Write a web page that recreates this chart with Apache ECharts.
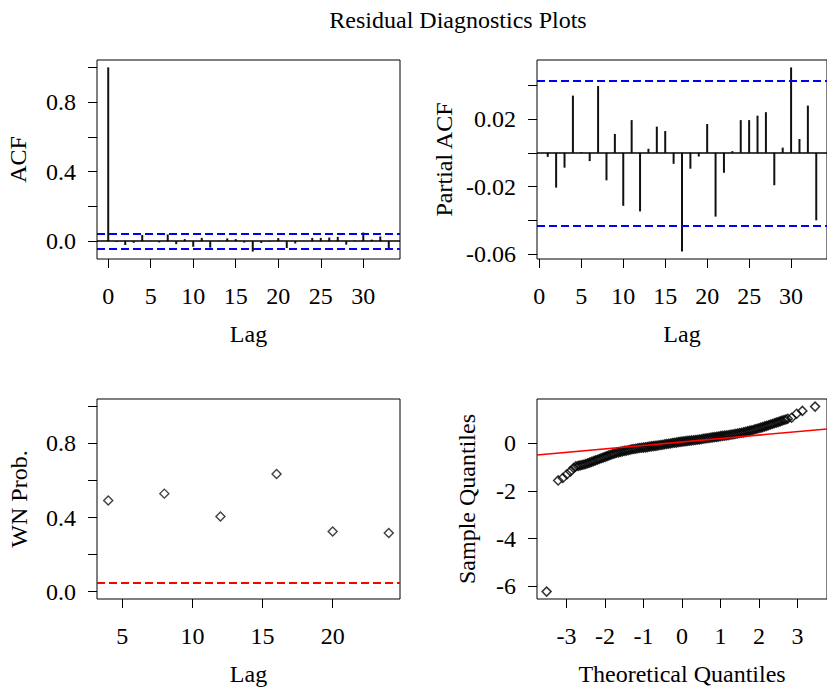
<!DOCTYPE html>
<html>
<head>
<meta charset="utf-8">
<script src="https://cdn.jsdelivr.net/npm/echarts@6/dist/echarts.min.js"></script>
<style>
html,body{margin:0;padding:0;background:#fff;}
#chart{width:827px;height:687px;}
</style>
</head>
<body>
<div id="chart"></div>
<script>
// ---------- data ----------
const titleText = 'Residual Diagnostics Plots';

const acfLags = [0,1,2,3,4,5,6,7,8,9,10,11,12,13,14,15,16,17,18,19,20,21,22,23,24,25,26,27,28,29,30,31,32,33];
const acfValues = [1.0,-0.005,-0.022,-0.009,0.036,0.001,-0.007,0.039,-0.017,0.012,-0.032,0.019,-0.037,0.002,0.016,0.012,-0.008,-0.060,-0.010,-0.003,0.018,-0.039,-0.013,0.001,0.019,0.019,0.021,0.025,-0.020,0.004,0.050,0.009,0.027,-0.041];

const pacfLags = [1,2,3,4,5,6,7,8,9,10,11,12,13,14,15,16,17,18,19,20,21,22,23,24,25,26,27,28,29,30,31,32,33];
const pacfValues = [-0.0024,-0.0206,-0.0088,0.0339,0.0005,-0.0049,0.0396,-0.0163,0.0112,-0.0314,0.0194,-0.0347,0.0024,0.0155,0.0129,-0.0065,-0.0584,-0.0094,-0.0022,0.0171,-0.0378,-0.0118,0.0010,0.0194,0.0194,0.0220,0.0241,-0.0192,0.0031,0.0506,0.0082,0.0280,-0.0400];

const confLimit = 0.043;

const wnLags = [4,8,12,16,20,24];
const wnProb = [0.492,0.529,0.405,0.635,0.324,0.317];
const wnLevel = 0.05;

const qqTheoretical = [-3.52,-3.22,-3.10,-2.99,-2.90,-2.82,-2.76,
 -2.70,-2.65,-2.60,-2.55,-2.50,-2.45,-2.40,-2.35,-2.30,-2.25,-2.20,-2.15,-2.10,-2.05,-2.00,-1.95,-1.90,-1.85,-1.80,-1.75,-1.70,-1.65,-1.60,-1.55,-1.50,-1.45,-1.40,-1.35,-1.30,-1.25,-1.20,-1.15,-1.10,-1.05,-1.00,-0.95,-0.90,-0.85,-0.80,-0.75,-0.70,-0.65,-0.60,-0.55,-0.50,-0.45,-0.40,-0.35,-0.30,-0.25,-0.20,-0.15,-0.10,-0.05,
 0.00,0.05,0.10,0.15,0.20,0.25,0.30,0.35,0.40,0.45,0.50,0.55,0.60,0.65,0.70,0.75,0.80,0.85,0.90,0.95,1.00,1.05,1.10,1.15,1.20,1.25,1.30,1.35,1.40,1.45,1.50,1.55,1.60,1.65,1.70,1.75,1.80,1.85,1.90,1.95,2.00,2.05,2.10,2.15,2.20,2.25,2.30,2.35,2.40,2.45,2.50,2.55,2.60,2.65,2.70,2.75,
 2.85,2.98,3.13,3.46];
const qqSample = [-6.23,-1.56,-1.46,-1.30,-1.18,-1.04,-0.97,
 -0.95,-0.93,-0.91,-0.89,-0.87,-0.84,-0.81,-0.78,-0.75,-0.72,-0.69,-0.66,-0.63,-0.60,-0.57,-0.54,-0.51,-0.48,-0.45,-0.43,-0.40,-0.38,-0.36,-0.34,-0.32,-0.31,-0.29,-0.27,-0.25,-0.24,-0.23,-0.21,-0.20,-0.19,-0.18,-0.17,-0.16,-0.14,-0.13,-0.12,-0.11,-0.10,-0.08,-0.07,-0.06,-0.04,-0.03,-0.02,-0.01,0.01,0.02,0.03,0.05,0.06,
 0.07,0.08,0.09,0.10,0.11,0.12,0.13,0.14,0.15,0.16,0.17,0.19,0.20,0.21,0.22,0.24,0.25,0.26,0.27,0.28,0.30,0.31,0.32,0.33,0.34,0.36,0.37,0.38,0.40,0.41,0.43,0.44,0.46,0.48,0.50,0.52,0.54,0.56,0.59,0.61,0.63,0.66,0.68,0.71,0.73,0.76,0.79,0.81,0.84,0.87,0.89,0.92,0.95,0.98,1.00,1.03,
 1.07,1.24,1.36,1.54];
const qqLineIntercept = 0.055;
const qqLineSlope = 0.145;

// tick values and labels
const lagTicks = [0,5,10,15,20,25,30];
const acfYTicks = [0,0.2,0.4,0.6,0.8,1.0];
const acfYLabels = [0,0.4,0.8];
const pacfYTicks = [-0.06,-0.04,-0.02,0,0.02,0.04];
const pacfYLabels = [-0.06,-0.02,0.02];
const wnXTicks = [5,10,15,20];
const wnYTicks = [0,0.2,0.4,0.6,0.8,1.0];
const wnYLabels = [0,0.4,0.8];
const qqXTicks = [-3,-2,-1,0,1,2,3];
const qqYTicks = [-6,-4,-2,0];

// ---------- chart ----------
const FONT = "'Liberation Serif','Times New Roman',serif";
const FS = 24;
const INK = '#000';

function xAxis(grid, min, max, ticks, labels, name, fmt) {
  return {
    type: 'value', gridIndex: grid, min: min, max: max,
    axisLine: {show: false, onZero: false},
    splitLine: {show: false},
    axisTick: {show: true, inside: false, length: 9, lineStyle: {color: INK, width: 1}, customValues: ticks},
    axisLabel: {show: true, margin: 25, color: INK, fontFamily: FONT, fontSize: FS, customValues: labels,
      formatter: fmt || (v => String(v))},
    name: name, nameLocation: 'middle', nameGap: 63, nameMoveOverlap: false,
    nameTextStyle: {color: INK, fontFamily: FONT, fontSize: FS}
  };
}
function yAxis(grid, min, max, ticks, labels, name, fmt, gap) {
  return {
    type: 'value', gridIndex: grid, min: min, max: max,
    axisLine: {show: false, onZero: false},
    splitLine: {show: false},
    axisTick: {show: true, inside: false, length: 9, lineStyle: {color: INK, width: 1}, customValues: ticks},
    axisLabel: {show: true, margin: 21, color: INK, fontFamily: FONT, fontSize: FS, customValues: labels,
      formatter: fmt || (v => String(v))},
    name: name, nameLocation: 'middle', nameGap: gap, nameRotate: 90, nameMoveOverlap: false,
    nameTextStyle: {color: INK, fontFamily: FONT, fontSize: FS}
  };
}
function refLine(y, color, type, width) {
  return {yAxis: y, lineStyle: {color: color, type: type, width: width}};
}
const markCommon = {silent: true, symbol: 'none', precision: 6, label: {show: false}, animation: false};

const gridBox = {show: true, borderColor: INK, borderWidth: 1, backgroundColor: 'transparent'};

const qqXMin = -3.77, qqXMax = 3.77;

const option = {
  animation: false,
  backgroundColor: '#fff',
  graphic: [{
    type: 'text', x: 458, y: 20,
    style: {text: titleText, fill: INK, font: FS + 'px ' + FONT, textAlign: 'center', textVerticalAlign: 'middle'}
  }],
  grid: [
    Object.assign({left: 97, top: 60, width: 303, height: 199}, gridBox),
    Object.assign({left: 537, top: 60, width: 302, height: 199}, gridBox),
    Object.assign({left: 97, top: 399, width: 303, height: 200}, gridBox),
    Object.assign({left: 537, top: 399, width: 302, height: 200}, gridBox)
  ],
  xAxis: [
    xAxis(0, -1.32, 34.32, lagTicks, lagTicks, 'Lag'),
    xAxis(1, -0.28, 34.28, lagTicks, lagTicks, 'Lag'),
    xAxis(2, 3.2, 24.8, wnXTicks, wnXTicks, 'Lag'),
    xAxis(3, qqXMin, qqXMax, qqXTicks, qqXTicks, 'Theoretical Quantiles')
  ],
  yAxis: [
    yAxis(0, -0.1024, 1.0424, acfYTicks, acfYLabels, 'ACF', v => v.toFixed(1), 67),
    yAxis(1, -0.0629, 0.0550, pacfYTicks, pacfYLabels, 'Partial ACF', v => v.toFixed(2), 81),
    yAxis(2, -0.04, 1.04, wnYTicks, wnYLabels, 'WN Prob.', v => v.toFixed(1), 66),
    yAxis(3, -6.54, 1.86, qqYTicks, qqYTicks, 'Sample Quantiles', v => String(v), 58)
  ],
  series: [
    {
      type: 'bar', xAxisIndex: 0, yAxisIndex: 0, barWidth: 2,
      itemStyle: {color: '#111'},
      data: acfLags.map((l, i) => [l, acfValues[i]]),
      markLine: Object.assign({data: [
        refLine(0, INK, 'solid', 1.5),
        refLine(confLimit, '#0000ff', [8, 4], 2),
        refLine(-confLimit, '#0000ff', [8, 4], 2)
      ]}, markCommon)
    },
    {
      type: 'bar', xAxisIndex: 1, yAxisIndex: 1, barWidth: 2,
      itemStyle: {color: '#111'},
      data: pacfLags.map((l, i) => [l, pacfValues[i]]),
      markLine: Object.assign({data: [
        refLine(0, INK, 'solid', 1.5),
        refLine(confLimit, '#0000ff', [8, 4], 2),
        refLine(-confLimit, '#0000ff', [8, 4], 2)
      ]}, markCommon)
    },
    {
      type: 'scatter', xAxisIndex: 2, yAxisIndex: 2,
      symbol: 'diamond', symbolSize: 9,
      itemStyle: {color: 'rgba(255,255,255,0)', borderColor: '#111', borderWidth: 1.4},
      data: wnLags.map((l, i) => [l, wnProb[i]]),
      markLine: Object.assign({data: [refLine(wnLevel, '#ff0000', [8, 4], 2)]}, markCommon)
    },
    {
      type: 'scatter', xAxisIndex: 3, yAxisIndex: 3,
      symbol: 'diamond', symbolSize: 9, large: false,
      itemStyle: {color: 'rgba(255,255,255,0)', borderColor: '#000', borderWidth: 1.5},
      data: qqTheoretical.map((t, i) => [t, qqSample[i]])
    },
    {
      type: 'line', xAxisIndex: 3, yAxisIndex: 3, symbol: 'none', clip: true, z: 3,
      lineStyle: {color: '#ff0000', width: 1.6},
      data: [[qqXMin, qqLineIntercept + qqLineSlope * qqXMin], [qqXMax, qqLineIntercept + qqLineSlope * qqXMax]]
    }
  ]
};

const chart = echarts.init(document.getElementById('chart'), null, {renderer: 'svg'});
chart.setOption(option);
</script>
</body>
</html>
